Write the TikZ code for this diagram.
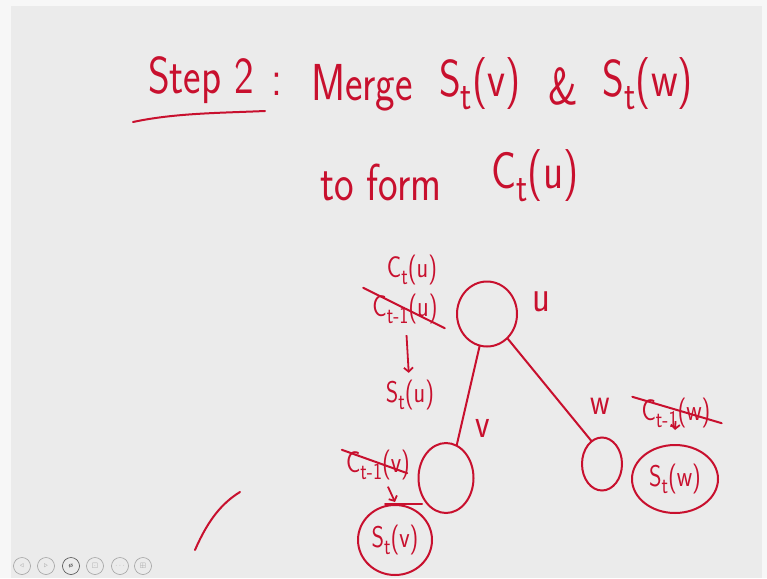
\documentclass[tikz,border=0pt]{standalone}
\usepackage{fontspec}
\usepackage{amssymb}
\usepackage{graphicx}
\usetikzlibrary{arrows.meta,shapes.geometric,calc}
\newfontfamily\mghandfont{lmsans17-regular.otf}[FakeStretch=0.8]
\definecolor{mgred}{HTML}{C8102E}
\definecolor{mgbg}{HTML}{EBEBEB}
\definecolor{mgpaper}{HTML}{F7F7F7}
\definecolor{mggray}{HTML}{A0A0A0}
\definecolor{mgdark}{HTML}{4A4A4A}
\tikzset{
  mghand/.style={text=mgred, inner sep=1pt, font=\mghandfont},
  mgbig/.style={mghand, font=\mghandfont\fontsize{52}{56}\selectfont},
  mgmid/.style={mghand, font=\mghandfont\fontsize{30}{34}\selectfont},
  mgvtx/.style={draw=mgred, ellipse, line width=2pt, inner sep=0pt},
  mgloop/.style={draw=mgred, ellipse, line width=2pt, inner sep=0pt},
  mgedge/.style={draw=mgred, line width=2pt, line cap=round},
  mgstrike/.style={draw=mgred, line width=2pt, line cap=round},
  mgarr/.style={-{Straight Barb[length=4pt,width=9pt]}, draw=mgred, line width=1.8pt,
    shorten <=10pt, shorten >=6pt},
  mgbtn/.style={circle, draw=mggray, line width=0.6pt, minimum size=17pt, inner sep=0pt,
    font=\fontsize{7}{7}\selectfont, text=mggray},
}
\newcommand{\mgsub}[1]{\raisebox{-0.55ex}{\scalebox{0.8}{#1}}}

\begin{document}
\begin{tikzpicture}[x=1pt, y=-1pt]
  \fill[mgpaper] (0,0) rectangle (767,578);
  \fill[mgbg] (11,6) rectangle (762,578);
  \useasboundingbox (0,0) rectangle (767,578);
  % title
  \node[mgbig] (step) at (201,80) {Step 2};
  \node[mgbig] (colon) at (277,84) {:};
  \node[mgbig] (merge) at (362,88) {Merge};
  \node[mgbig] (stv) at (480,84) {S\mgsub{t}(v)};
  \node[mgbig] (amp) at (563,86) {\&};
  \node[mgbig] (stw) at (648,84) {S\mgsub{t}(w)};
  \node[mgbig] (toform) at (381,182) {to form};
  \node[mgbig] (ctuhead) at (535,176) {C\mgsub{t}(u)};
  \draw[mgedge] (133,122) .. controls (175,113) and (220,113) .. (265,111);
  % tree
  \node[mgvtx, minimum width=60pt, minimum height=65pt] (u) at (487,314) {};
  \node[mgvtx, minimum width=55pt, minimum height=70pt] (v) at (446,478) {};
  \node[mgvtx, minimum width=40pt, minimum height=53pt] (w) at (602,464) {};
  \node[mghand, font=\mghandfont\fontsize{46}{50}\selectfont] (ulbl) at (541,302) {u};
  \node[mghand, font=\mghandfont\fontsize{42}{46}\selectfont] (vlbl) at (483,428) {v};
  \node[mghand, font=\mghandfont\fontsize{38}{42}\selectfont] (wlbl) at (600,406) {w};
  \draw[mgedge] (u.257) -- (v.72);
  \draw[mgedge] (u.-50) -- (w.115);
  % labels of u
  \node[mgmid] (ctu) at (412,270) {C\mgsub{t}(u)};
  \node[mgmid] (cpu) at (405,309) {C\mgsub{t-1}(u)};
  \node[mgmid] (su) at (410,395) {S\mgsub{t}(u)};
  \draw[mgstrike] ([shift={(-8,-5)}]cpu.north west) -- ([shift={(6,3)}]cpu.south east);
  \draw[mgarr] (cpu) -- (su);
  % labels of v
  \node[mgmid] (cpv) at (378,465) {C\mgsub{t-1}(v)};
  \node[mgmid, mgloop, minimum width=74pt, minimum height=70pt] (sv) at (395,540) {S\mgsub{t}(v)};
  \draw[mgstrike] ([shift={(-3,1)}]cpv.north west) -- ([shift={(-4,-8)}]cpv.south east);
  \draw[mgarr, shorten <=6pt, shorten >=0pt] (cpv) -- ([yshift=2]sv.north);
  \draw[mgstrike] ([xshift=-10]sv.north) -- ([xshift=27]sv.north);
  % labels of w
  \node[mgmid] (cpw) at (676,413) {C\mgsub{t-1}(w)};
  \node[mgmid, mgloop, minimum width=86pt, minimum height=68pt] (sw) at (675,479) {S\mgsub{t}(w)};
  \draw[mgstrike] ([shift={(-8,0)}]cpw.north west) -- ([shift={(10,-6)}]cpw.south east);
  \draw[mgarr, shorten <=8pt, shorten >=0pt] (cpw) -- ([yshift=14]sw.north);
  % stray stroke
  \draw[mgedge] (195,550) .. controls (208,520) and (222,503) .. (240,492);
  % slide buttons
  \node[mgbtn] (b1) at (22,566) {$\triangleleft$};
  \node[mgbtn] (b2) at (46,566) {$\triangleright$};
  \node[mgbtn, draw=mgdark, text=mgdark] (b3) at (71,566) {\textbf{\o}};
  \node[mgbtn] (b4) at (95,566) {$\boxdot$};
  \node[mgbtn] (b5) at (120,566) {$\cdots$};
  \node[mgbtn] (b6) at (143,566) {$\boxplus$};
\end{tikzpicture}
\end{document}
